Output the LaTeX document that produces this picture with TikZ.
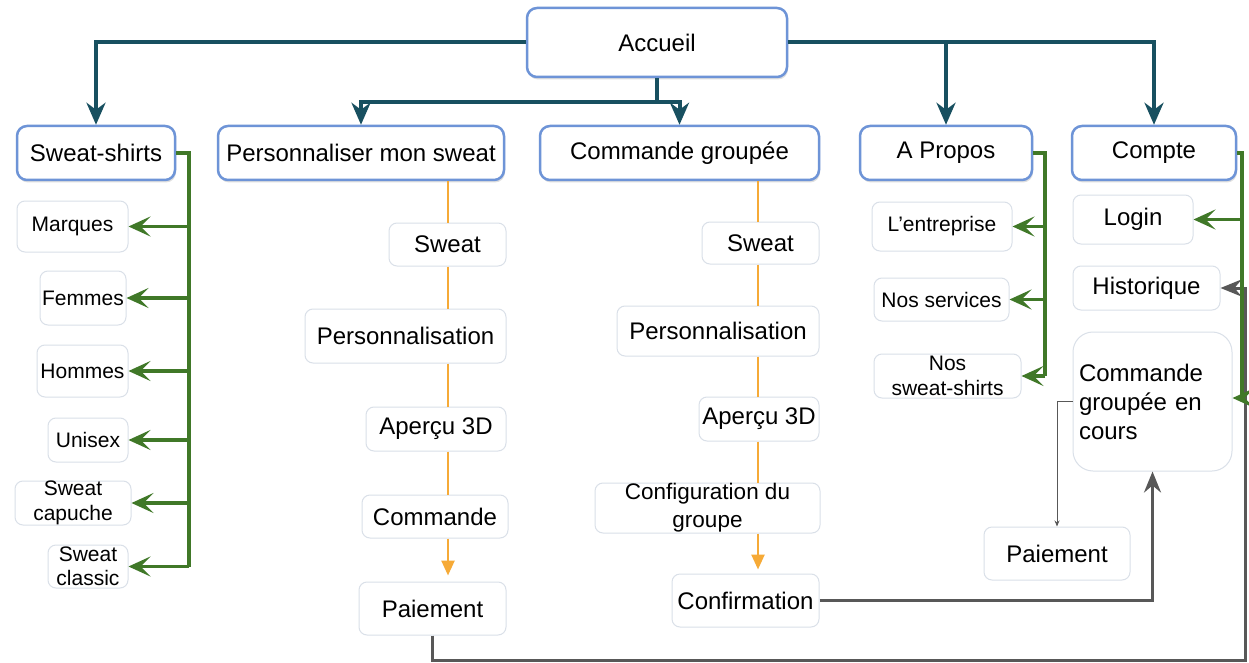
\documentclass[tikz,border=0pt]{standalone}
\usepackage{fontspec}
\setmainfont{Liberation Sans}
\usetikzlibrary{arrows.meta,shadows,calc}
\definecolor{tealc}{RGB}{24,80,96}
\definecolor{grnc}{RGB}{64,120,40}
\definecolor{orgc}{RGB}{246,170,55}
\definecolor{gryc}{RGB}{88,88,88}
\definecolor{mainb}{RGB}{110,148,215}
\definecolor{subb}{RGB}{218,224,232}
\newcommand\fa{\fontsize{24}{29}\selectfont}
\newcommand\fb{\fontsize{21}{24.5}\selectfont}
\newcommand\fc{\fontsize{22.5}{28}\selectfont}
% style, name, x1, y1, x2, y2, text
\newcommand\bx[7]{\node[#1, minimum width={(#5-#3)*1pt}, minimum height={(#6-#4)*1pt}] (#2) at ({(#3+#5)/2},{(#4+#6)/2}) {#7};}
\begin{document}
\begin{tikzpicture}[x=1pt,y=-1pt,
 mainbox/.style={draw=mainb, line width=2.5pt, fill=white, rounded corners=10pt, inner sep=0pt, align=center, font=\fa,
   drop shadow={opacity=0.25, shadow xshift=1pt, shadow yshift=-2.5pt}},
 subbox/.style={draw=subb, line width=1pt, fill=white, rounded corners=8pt, inner sep=0pt, align=center, font=\fa},
 smallbox/.style={subbox, font=\fb},
 tline/.style={draw=tealc, line width=4pt},
 tarrow/.style={tline, -{Stealth[length=22pt,width=19pt,inset=7pt]}},
 gline/.style={draw=grnc, line width=3.5pt},
 garrow/.style={gline, -{Stealth[length=22pt,width=20pt,inset=10pt]}},
 oline/.style={draw=orgc, line width=2.5pt},
 oarrow/.style={oline, -{Triangle[length=15pt,width=13pt]}},
 gyarrow/.style={draw=gryc, line width=3pt, -{Stealth[length=21pt,width=17pt,inset=7pt]}},
 gythin/.style={draw=gryc, line width=1pt, -{Stealth[length=6pt,width=5pt]}}
]
\fill[white] (0,0) rectangle (1249,663);
\useasboundingbox (0,0) rectangle (1249,663);

% main boxes
\bx{mainbox}{acc}{527}{8}{787}{77}{Accueil}
\bx{mainbox}{sw}{17}{126}{175}{180}{Sweat-shirts}
\bx{mainbox}{pers}{218}{126}{504}{180}{Personnaliser mon sweat}
\bx{mainbox}{cg}{540}{126}{819}{180}{Commande groupée}
\bx{mainbox}{ap}{860}{126}{1032}{180}{A Propos}
\bx{mainbox}{cpt}{1072}{126}{1236}{180}{Compte}

% Sweat-shirts children
\bx{smallbox}{marq}{17}{201}{128}{252}{Marques}
\bx{smallbox}{fem}{40}{271}{126}{325}{Femmes}
\bx{smallbox}{hom}{37}{345}{128}{397}{Hommes}
\bx{smallbox}{uni}{48}{418}{128}{462}{Unisex}
\bx{smallbox}{cap}{15}{481}{131}{525}{Sweat\\capuche}
\bx{smallbox}{cla}{48}{545}{128}{588}{Sweat\\classic}

% Personnaliser column
\bx{subbox}{swa}{389}{223}{506}{266}{Sweat}
\bx{subbox}{pna}{305}{309}{506}{363}{Personnalisation}
\bx{subbox}{apa}{366}{407}{506}{451}{Aperçu 3D}
\bx{subbox}{cma}{362}{495}{508}{538}{Commande}
\bx{subbox}{paya}{359}{582}{506}{635}{Paiement}

% Commande groupee column
\bx{subbox}{swb}{702}{222}{819}{264}{Sweat}
\bx{subbox}{pnb}{617}{306}{819}{356}{Personnalisation}
\bx{subbox}{apb}{699}{397}{819}{441}{Aperçu 3D}
\bx{subbox, font=\fc}{cfg}{595}{483}{820}{533}{Configuration du\\groupe}
\bx{subbox}{conf}{672}{574}{819}{627}{Confirmation}

% A Propos children
\bx{smallbox}{ent}{872}{202}{1012}{251}{L’entreprise}
\bx{smallbox}{serv}{874}{278}{1009}{321}{Nos services}
\bx{smallbox}{nsw}{874}{354}{1021}{398}{Nos\\sweat-shirts}

% Compte children
\bx{subbox}{log}{1073}{195}{1193}{244}{Login}
\bx{subbox}{hist}{1073}{266}{1220}{310}{Historique}
\bx{subbox, rounded corners=20pt, align=left, text width=147pt, inner xsep=6pt}{cgec}{1073}{332}{1232}{471}{Commande\\groupée en\\cours}
\bx{subbox}{payb}{984}{527}{1130}{580}{Paiement}

% teal connectors
\coordinate (j) at (657,102);
\draw[tarrow] (acc.west) -| (sw.north);
\draw[tarrow] (acc.east) -| (cpt.north);
\draw[tarrow] (acc.east -| ap.north) -- (ap.north);
\draw[tline] (acc.south) -- (j);
\draw[tarrow] (j) -| (pers.north);
\draw[tarrow] (j) -| (cg.north);

% orange flows
\coordinate (oxa) at (448,0);
\draw[oline] (pers.south -| oxa) -- (swa.north -| oxa);
\draw[oline] (swa.south -| oxa) -- (pna.north -| oxa);
\draw[oline] (pna.south -| oxa) -- (apa.north -| oxa);
\draw[oline] (apa.south -| oxa) -- (cma.north -| oxa);
\draw[oarrow, shorten >=6pt] (cma.south -| oxa) -- (paya.north -| oxa);
\coordinate (oxb) at (758,0);
\draw[oline] (cg.south -| oxb) -- (swb.north -| oxb);
\draw[oline] (swb.south -| oxb) -- (pnb.north -| oxb);
\draw[oline] (pnb.south -| oxb) -- (apb.north -| oxb);
\draw[oline] (apb.south -| oxb) -- (cfg.north -| oxb);
\draw[oarrow, shorten >=4pt] (cfg.south -| oxb) -- (conf.north -| oxb);

% gray connectors
\coordinate (gb) at (1245,660);
\coordinate (gr) at (1245,288);
\draw[gyarrow] (paya.south) |- (gb) -- (gr) -- (hist.east);
\draw[gyarrow] (conf.east) -| (cgec.south);
\draw[gythin] (cgec.west) -| (payb.north);

% green connectors
\coordinate (gat) at (189,153);
\coordinate (gab) at (189,567);
\draw[gline] (sw.east) -- (gat) -- (gab);
\foreach \c in {marq,fem,hom,uni,cap,cla} {\draw[garrow] (\c.east -| gat) -- (\c.east);}
\coordinate (gbt) at (1045,153);
\coordinate (gbb) at (1045,376);
\draw[gline] (ap.east) -- (gbt) -- (gbb);
\foreach \c in {ent,serv,nsw} {\draw[garrow] (\c.east -| gbt) -- (\c.east);}
\coordinate (gct) at (1242,153);
\coordinate (gcb) at (1242,398);
\draw[gline] (cpt.east) -- (gct) -- (gcb);
\draw[garrow] (log.east -| gct) -- (log.east);
\draw[garrow] (gcb) -- (gcb -| cgec.east);
\end{tikzpicture}
\end{document}
